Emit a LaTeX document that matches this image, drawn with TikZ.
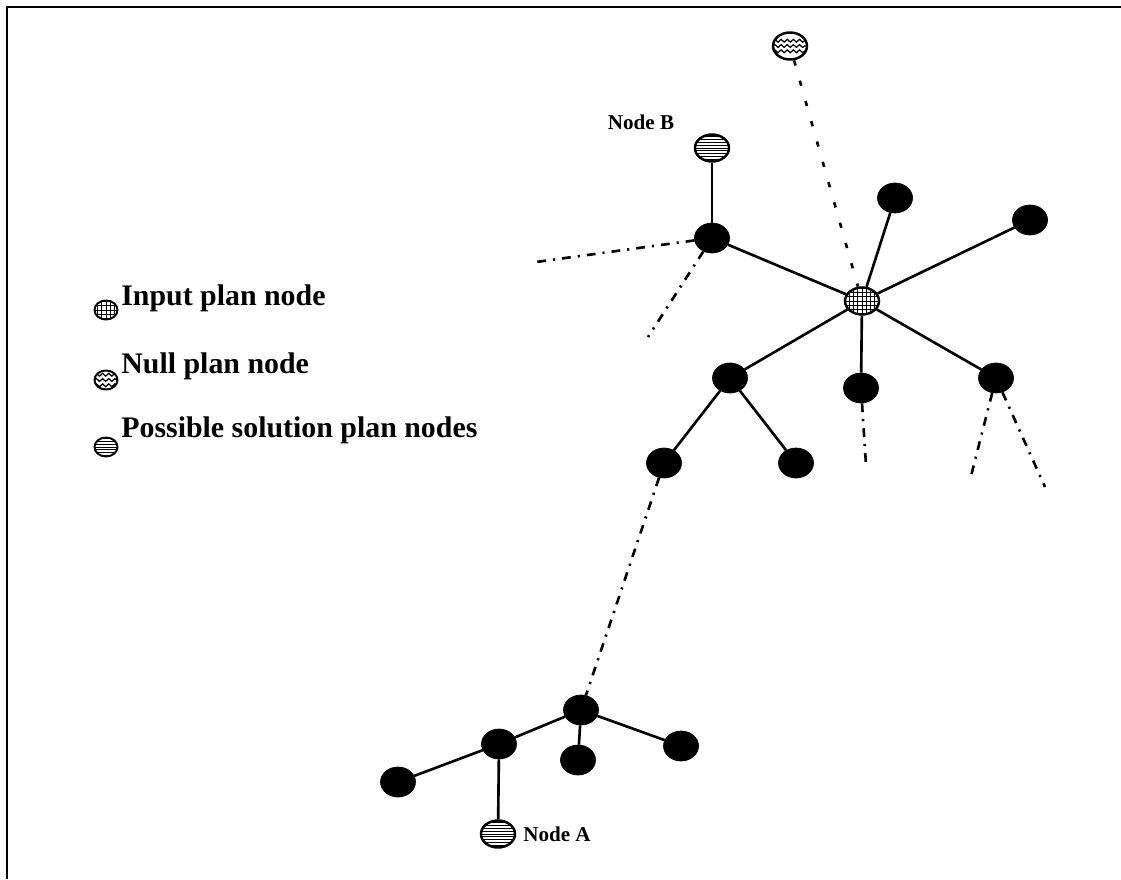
\documentclass[tikz,border=0pt]{standalone}
\usepackage{fontspec}
\setmainfont{Liberation Serif}
\usetikzlibrary{shapes.geometric,decorations.pathmorphing}

\begin{document}
\begin{tikzpicture}[x=0.02cm, y=-0.02cm,
    pn/.style={ellipse, draw, fill=black, minimum width=0.70cm, minimum height=0.60cm, inner sep=0pt},
    hn/.style={ellipse, draw, line width=1.4pt, fill=white, minimum width=0.68cm, minimum height=0.54cm, inner sep=0pt},
    inp/.style={hn, path picture={\foreach \k in {-3,...,3} {\draw[line width=0.5pt] ([xshift=\k*2.4pt]path picture bounding box.north) -- ([xshift=\k*2.4pt]path picture bounding box.south); \draw[line width=0.5pt] ([yshift=\k*2.4pt]path picture bounding box.west) -- ([yshift=\k*2.4pt]path picture bounding box.east);}}},
    nul/.style={hn, path picture={\foreach \k in {-1,0,1} {\draw[line width=0.7pt, decorate, decoration={snake, amplitude=0.8pt, segment length=3.5pt}] ([yshift=\k*3pt]path picture bounding box.west) -- ([yshift=\k*3pt]path picture bounding box.east);}}},
    sol/.style={hn, path picture={\foreach \k in {-4,...,4} {\draw[line width=0.5pt] ([yshift=\k*1.6pt]path picture bounding box.west) -- ([yshift=\k*1.6pt]path picture bounding box.east);}}},
    small/.style={minimum width=0.46cm, minimum height=0.38cm, line width=1.1pt},
    edge/.style={line width=1.5pt},
    ddot/.style={line width=1.5pt, dash pattern=on 5pt off 4pt on 1.2pt off 4pt},
    dsh/.style={line width=1.5pt, dash pattern=on 3pt off 9pt},
    lgd/.style={font=\bfseries\fontsize{17}{20}\selectfont, anchor=west, inner sep=0pt},
    lbl/.style={font=\bfseries\fontsize{12}{14}\selectfont, inner sep=0pt}
]
\useasboundingbox (0,0) rectangle (1121,879);
\draw[line width=1.4pt] (7,879) -- (7,7) -- (1121,7);

% legend
\node[inp, small] (li) at (106,310) {};
\node[lgd] (lti) at (121,298) {Input plan node};
\node[nul, small] (ln) at (106,380) {};
\node[lgd] (ltn) at (121,366) {Null plan node};
\node[sol, small] (ls) at (106,447) {};
\node[lgd] (lts) at (121,430) {Possible solution plan nodes};

% tree nodes
\node[nul] (nn) at (790,46) {};
\node[sol] (nb) at (712,148) {};
\node[lbl] (lb) at (641,122) {Node B};
\node[pn] (bp) at (712,238) {};
\node[inp] (in) at (862,301) {};
\node[pn] (t1) at (895,198) {};
\node[pn] (t2) at (1030,220) {};
\node[pn] (c1) at (730,378) {};
\node[pn] (c2) at (861,388) {};
\node[pn] (c3) at (996,378) {};
\node[pn] (g1) at (664,463) {};
\node[pn] (g2) at (796,463) {};
\node[pn] (d) at (581,710) {};
\node[pn] (e1) at (499,744) {};
\node[pn] (e2) at (578,760) {};
\node[pn] (e3) at (681,746) {};
\node[pn] (f1) at (398,782) {};
\node[sol] (na) at (498,834) {};
\node[lbl] (la) at (557,834) {Node A};

% free ends
\coordinate (b1) at (536,262);
\coordinate (b2) at (648,337);
\coordinate (m1) at (866,465);
\coordinate (r1) at (970,480);
\coordinate (r2) at (1045,487);

% edges
\foreach \a/\b in {bp/nb, bp/in, in/t1, in/t2, in/c1, in/c2, in/c3, c1/g1, c1/g2, d/e1, d/e2, d/e3, e1/f1, e1/na}
    \draw[edge] (\a) -- (\b);
\foreach \a/\b in {bp/b1, bp/b2, c2/m1, c3/r1, c3/r2, g1/d}
    \draw[ddot] (\a) -- (\b);
\draw[dsh] (nn) -- (in);
\end{tikzpicture}
\end{document}
